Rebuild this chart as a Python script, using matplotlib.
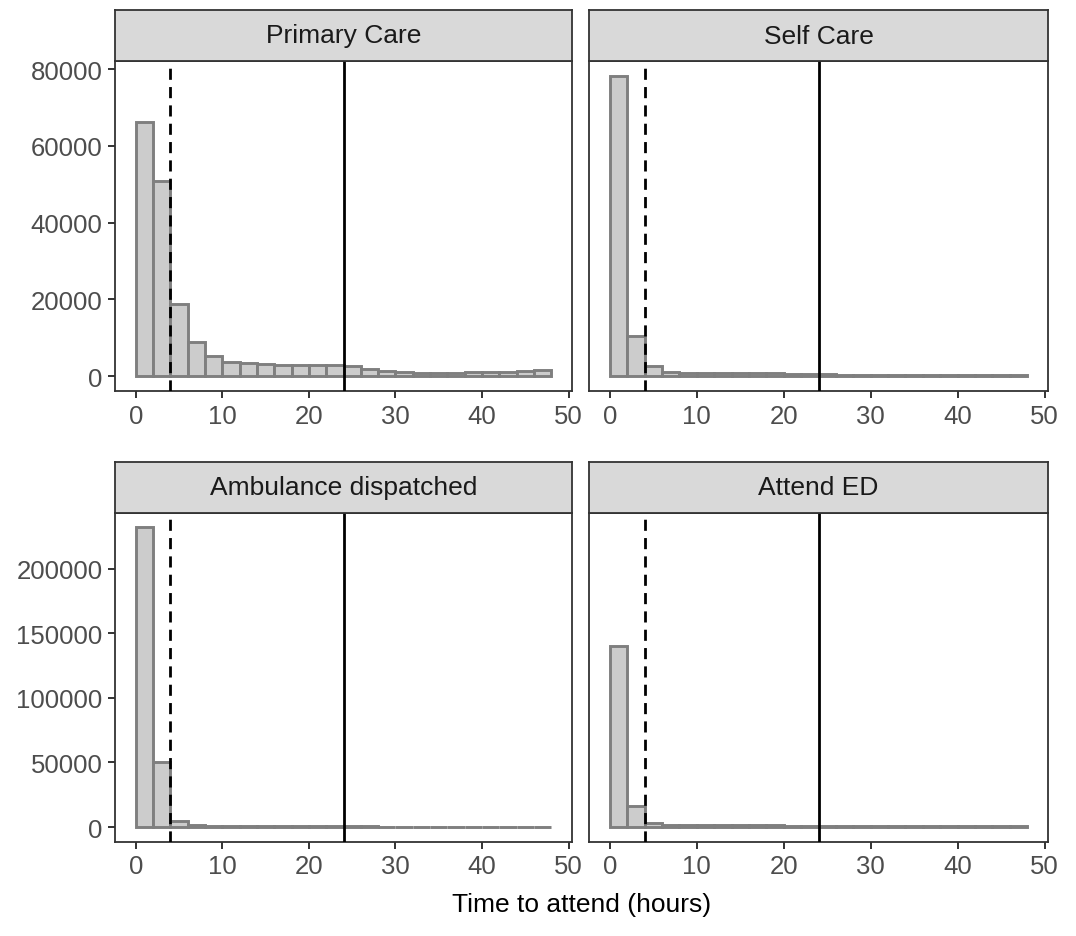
import numpy as np
import matplotlib.pyplot as plt

# bin edges (hours), binwidth 2
bin_left = np.arange(0, 48, 2)

panels = ["Primary Care", "Self Care", "Ambulance dispatched", "Attend ED"]

primary_care = [66100, 50900, 18900, 9000, 5100, 3700, 3300, 3100, 3000, 2800, 3000, 2900,
                2600, 1900, 1400, 1100, 900, 800, 900, 1000, 1000, 1100, 1400, 1500]
self_care = [78100, 10400, 2500, 1100, 800, 700, 700, 700, 700, 700, 650, 600,
             500, 400, 350, 300, 300, 300, 300, 300, 300, 300, 300, 300]
ambulance = [231900, 50400, 4600, 1500, 700, 500, 500, 450, 450, 400, 400, 400,
             400, 400, 350, 300, 300, 300, 300, 300, 300, 300, 300, 300]
attend_ed = [140100, 15900, 3300, 1800, 1400, 1200, 1200, 1500, 1300, 1200, 1100, 1000,
             900, 800, 700, 600, 500, 500, 450, 400, 400, 400, 400, 400]
counts = [primary_care, self_care, ambulance, attend_ed]

dashed_x = 4
solid_x = 24

W, H = 1076, 937
fig = plt.figure(figsize=(W / 100, H / 100), dpi=100)
plt.rcParams['font.family'] = ['Liberation Sans', 'DejaVu Sans']

# pixel boxes: (left, right) columns and (strip_top, panel_top, panel_bottom) rows
cols = [(115, 572), (589, 1048)]
rows = [(11, 62, 392), (463, 514, 843)]
row_ylim = [(-3900, 82100), (-11600, 243000)]
row_yticks = [[0, 20000, 40000, 60000, 80000], [0, 50000, 100000, 150000, 200000]]

def px_box(x0, x1, y0, y1):
    return [x0 / W, 1 - y1 / H, (x1 - x0) / W, (y1 - y0) / H]

for i, name in enumerate(panels):
    r, c = divmod(i, 2)
    x0, x1 = cols[c]
    st, pt, pb = rows[r]

    ax = fig.add_axes(px_box(x0, x1, pt, pb))
    ax.bar(bin_left, counts[i], width=2, align='edge', color='#CCCCCC',
           edgecolor='#7F7F7F', linewidth=2.1, zorder=2)
    ax.axvline(dashed_x, color='black', linestyle=(0, (4, 2.6)), linewidth=2.0, zorder=3)
    ax.axvline(solid_x, color='black', linewidth=2.0, zorder=3)
    ax.set_xlim(-2.4, 50.4)
    ax.set_ylim(*row_ylim[r])
    ax.set_xticks([0, 10, 20, 30, 40, 50])
    ax.set_yticks(row_yticks[r])
    ax.tick_params(colors='#333333', labelcolor='#4D4D4D', labelsize=18.5,
                   length=5, width=1.4, pad=4)
    if c == 1:
        ax.set_yticklabels([])
        ax.tick_params(axis='y', length=0)
    for s in ax.spines.values():
        s.set_color('#333333')
        s.set_linewidth(1.3)

    sax = fig.add_axes(px_box(x0, x1, st, pt))
    sax.set_facecolor('#D9D9D9')
    sax.set_xticks([])
    sax.set_yticks([])
    for s in sax.spines.values():
        s.set_color('#333333')
        s.set_linewidth(1.3)
    sax.text(0.5, 0.5, name, ha='center', va='center', fontsize=19,
             color='#1A1A1A', transform=sax.transAxes)

fig.text((cols[0][0] + cols[1][1]) / 2 / W, 1 - 905 / H, "Time to attend (hours)",
         ha='center', va='center', fontsize=19, color='black')

fig.savefig("out.png", dpi=100, facecolor='white')
